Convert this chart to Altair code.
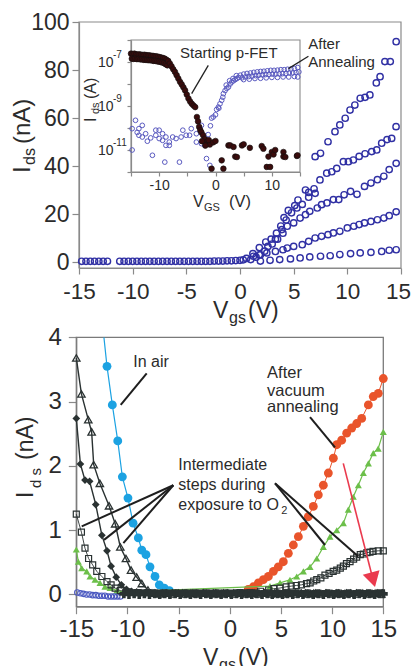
import altair as alt
import pandas as pd

FONT = "Liberation Sans"
TXT = "#2b2b2b"
GRAY = "#8a8a8a"
NAVY = "#3030a4"
INS_BLUE = "#5a5ac0"
MAROON = "#3a0c0c"
LBLUE = "#1ca2e2"
ORANGE = "#e9542b"
GREEN = "#6cbf4a"
DARK = "#2a3232"
RED = "#ea3a4e"

W, H = 403, 658

# ---------------- top panel data (Ids in nA vs Vgs) ----------------
TOP_FLAT_X = [-14.75, -14.35, -13.95, -13.55, -13.15, -12.75, -12.35, -11.2, -10.8, -10.4,
              -10.0, -9.6, -9.2, -8.8, -8.4, -8.0, -7.6, -7.2, -6.8, -6.4, -6.0, -5.6, -5.2,
              -4.8, -4.4, -4.0, -3.6, -3.2, -2.8, -2.4, -2.0, -1.6, -1.2, -0.8, -0.4, 0.0, 0.3]
TOP_FLAT_Y = [0.3, 0.3, 0.3, 0.3, 0.3, 0.3, 0.3, 0.3, 0.3, 0.3, 0.3, 0.3, 0.3, 0.3, 0.3,
              0.3, 0.3, 0.3, 0.3, 0.3, 0.3, 0.3, 0.3, 0.3, 0.3, 0.3, 0.3, 0.3, 0.3, 0.4,
              0.4, 0.4, 0.5, 0.5, 0.6, 0.7, 0.9]
C1_X = [0.6, 1.2, 1.8, 2.4, 2.9, 3.4, 3.8, 4.1, 4.5, 5.1, 5.4, 6.1, 6.4, 7.0, 7.0, 7.5,
        8.2, 8.85, 9.3, 9.8, 10.25, 10.7, 11.2, 11.65, 12.1, 12.7, 13.05, 13.5, 14.0, 14.55]
C1_Y = [1.5, 3.5, 6.0, 8.3, 9.5, 12.0, 15.0, 18.5, 21.5, 23.5, 25.8, 30.0, 29.0, 28.6, 43.9,
        45.3, 50.1, 54.3, 57.1, 59.9, 63.3, 65.4, 68.2, 68.6, 69.6, 74.6, 77.2, 83.5, 83.5, 91.8]
C2_X = [1.0, 1.8, 2.6, 3.3, 3.9, 4.3, 4.8, 5.3, 5.8, 6.4, 6.9, 7.45, 8.08, 8.55, 9.01, 9.63,
        10.1, 10.56, 11.1, 11.65, 12.27, 12.74, 13.2, 13.7, 14.13, 14.54]
C2_Y = [1.0, 3.0, 6.5, 9.5, 13.5, 17.5, 20.5, 22.5, 24.0, 27.0, 30.5, 34.2, 37.0, 37.6, 39.0,
        41.8, 41.8, 42.5, 44.0, 45.1, 46.0, 46.7, 49.5, 51.0, 51.5, 56.4]
C3_X = [1.5, 2.3, 3.0, 3.5, 4.0, 4.4, 5.0, 5.6, 6.1, 6.5, 7.2, 7.6, 8.1, 8.7, 9.2, 9.7,
        10.3, 10.9, 11.6, 12.2, 12.8, 13.4, 13.9, 14.55]
C3_Y = [2.0, 4.5, 7.5, 9.5, 12.0, 14.9, 16.3, 18.3, 19.7, 21.1, 22.5, 23.9, 24.6, 26.0, 26.0,
        28.0, 29.4, 28.2, 31.5, 32.9, 34.3, 35.7, 38.5, 41.1]
C4_X = [1.25, 1.9, 2.5, 3.3, 4.0, 4.4, 5.0, 5.8, 6.4, 7.0, 7.6, 8.2, 8.7, 9.3, 10.0, 10.6,
        11.1, 11.6, 12.2, 12.8, 13.4, 13.9, 14.55]
C4_Y = [2.4, 3.0, 3.8, 4.4, 5.1, 5.8, 6.5, 7.2, 8.6, 10.0, 10.7, 11.4, 12.1, 12.8, 14.2, 14.9,
        15.6, 16.3, 16.9, 17.6, 18.3, 19.3, 20.9]
C5_X = [1.9, 2.8, 3.7, 4.7, 5.6, 6.5, 7.5, 8.4, 9.3, 10.3, 11.2, 12.2, 13.2, 13.9, 14.55]
C5_Y = [0.4, 0.7, 1.0, 1.3, 1.7, 2.1, 2.4, 2.6, 3.1, 3.5, 3.8, 4.0, 4.4, 4.9, 5.1]

# ---------------- inset data (log10 of Ids in A vs VGS) ----------------
P_ROW1_X = [-15.0, -14.7, -14.4, -14.1, -13.8, -13.5, -13.2, -12.9, -12.6, -12.3, -12.0,
            -11.7, -11.4, -11.1, -10.8, -10.5, -10.2, -9.9, -9.6, -9.3, -9.0, -8.7]
P_ROW1_Y = [-6.62, -6.64, -6.62, -6.65, -6.66, -6.65, -6.67, -6.68, -6.67, -6.69, -6.7,
            -6.7, -6.72, -6.72, -6.74, -6.74, -6.76, -6.78, -6.8, -6.82, -6.85, -6.9]
P_ROW2_X = [-14.85, -14.55, -14.25, -13.95, -13.65, -13.35, -13.05, -12.75, -12.45, -12.15,
            -11.85, -11.55, -11.25, -10.95, -10.65, -10.35, -10.05, -9.75, -9.45, -9.15,
            -8.85, -8.55]
P_ROW2_Y = [-6.85, -6.86, -6.85, -6.87, -6.86, -6.88, -6.88, -6.9, -6.9, -6.91, -6.92,
            -6.92, -6.93, -6.95, -6.95, -6.97, -6.98, -7.0, -7.02, -7.05, -7.1, -7.15]
P_DESC_X = [-8.4, -8.1, -7.8, -7.5, -7.2, -6.9, -6.6, -6.3, -6.0, -5.7, -5.4, -5.1, -4.8,
            -4.5, -4.2, -3.9, -3.6, -3.3, -3.1, -2.9, -2.7, -2.5, -2.2, -1.9, -1.6, -1.3, -1.0]
P_DESC_Y = [-6.95, -7.07, -7.2, -7.33, -7.45, -7.6, -7.75, -7.9, -8.02, -8.15, -8.29, -8.48,
            -8.66, -8.8, -8.9, -8.98, -9.05, -9.5, -9.7, -9.95, -10.1, -10.2, -10.33, -10.5,
            -10.64, -10.7, -10.75]
P_SCAT_X = [-2.4, -1.8, -1.2, -0.7, -0.4, 0.0, 1.1, 1.4, 2.3, 2.6, 3.2, 3.5, 3.8, 4.7, 5.0,
            6.1, 8.2, 8.5, 9.1, 9.4, 9.7, 10.0, 10.3, 10.6, 12.06, 12.06, 12.4, 14.45, 14.56]
P_SCAT_Y = [-10.6, -10.8, -10.55, -11.85, -10.65, -10.59, -11.47, -11.85, -10.79, -10.79,
            -10.86, -11.3, -11.32, -10.79, -10.74, -10.9, -10.82, -10.94, -11.77, -11.3,
            -11.77, -11.09, -11.2, -11.0, -11.09, -11.3, -11.32, -11.27, -11.24]
A_X = [-14.8, -14.8, -14.2, -13.9, -13.6, -13.6, -13.0, -13.0, -12.4, -12.1, -11.5, -11.2,
       -10.6, -10.6, -10.0, -10.0, -9.4, -9.4, -9.0, -8.8, -8.8, -8.2, -8.2, -7.6, -7.0,
       -6.4, -6.1, -5.8, -5.2, -4.6, -4.3, -3.4, -3.4, -2.5, -2.5, -1.9, -1.6, -1.0, -1.3,
       -0.9, -0.7, -0.4, 0.0, 0.2, 0.5, 0.6, 0.8, 1.1, 1.3, 1.4, 1.7, 1.9, 2.0, 2.3, 2.5,
       2.6, 2.9, 3.1, 3.2, 3.5, 3.7, 3.8, 4.1]
A_Y = [-10.03, -11.0, -9.65, -10.2, -10.03, -10.33, -9.88, -10.41, -10.26, -10.6, -10.45,
       -11.24, -10.1, -10.33, -10.1, -10.48, -10.26, -10.56, -11.55, -10.41, -10.79, -10.64,
       -10.79, -10.41, -10.48, -11.55, -10.41, -10.1, -10.33, -10.33, -10.03, -10.26, -10.64,
       -9.88, -10.71, -10.79, -11.39, -11.7, -10.3, -9.9, -9.55, -9.5, -9.4, -9.16, -9.05,
       -9.1, -8.9, -8.74, -8.6, -8.44, -8.3, -8.05, -8.2, -8.14, -7.85, -8.0, -7.91, -7.75,
       -7.85, -7.8, -7.62, -7.75, -7.7]
A_BAND1_X = [4.4, 5.0, 5.6, 6.2, 6.8, 7.4, 8.0, 8.6, 9.2, 9.8, 10.4, 11.0, 11.6, 12.2, 12.8,
             13.4, 14.0, 14.6]
A_BAND1_Y = [-7.6, -7.55, -7.52, -7.5, -7.47, -7.45, -7.43, -7.42, -7.4, -7.38, -7.38, -7.37,
             -7.35, -7.35, -7.33, -7.32, -7.3, -7.25]
A_BAND2_X = [4.7, 5.3, 5.9, 6.5, 7.1, 7.7, 8.3, 8.9, 9.5, 10.1, 10.7, 11.3, 11.9, 12.5, 13.1,
             13.7, 14.3, 14.8]
A_BAND2_Y = [-7.72, -7.68, -7.66, -7.64, -7.62, -7.6, -7.58, -7.57, -7.56, -7.55, -7.55,
             -7.54, -7.53, -7.52, -7.5, -7.5, -7.48, -7.45]
A_BAND3_X = [5.0, 6.0, 7.0, 8.0, 9.0, 10.0, 11.0, 12.0, 13.0, 14.0, 14.6]
A_BAND3_Y = [-7.8, -7.78, -7.75, -7.74, -7.72, -7.7, -7.7, -7.68, -7.68, -7.66, -7.68]

# ---------------- bottom panel data (Ids in nA vs Vgs) ----------------
AIR_X = [-12.0, -11.48, -10.95, -10.5, -9.95, -9.45, -8.94, -8.6, -8.19, -7.8, -7.31, -6.89,
         -6.4, -5.9]
AIR_Y = [3.55, 2.95, 2.39, 1.83, 1.5, 1.11, 0.88, 0.69, 0.62, 0.43, 0.28, 0.15, 0.1, 0.06]
AIR_EDGE_X = [-12.3]
AIR_EDGE_Y = [4.0]
ORG_X = [1.8, 2.3, 2.79, 3.28, 3.77, 4.26, 4.74, 5.23, 5.72, 6.21, 6.7, 7.19, 7.67, 8.16,
         8.65, 9.14, 9.63, 10.12, 10.45, 10.93, 11.42, 11.91, 12.4, 12.89, 13.54, 14.02,
         14.51, 15.0]
ORG_Y = [0.08, 0.12, 0.18, 0.23, 0.28, 0.36, 0.43, 0.51, 0.64, 0.77, 0.90, 1.06, 1.21, 1.37,
         1.55, 1.70, 1.89, 2.12, 2.33, 2.40, 2.51, 2.59, 2.66, 2.74, 2.95, 3.08, 3.13, 3.36]
GRN_X = [-15.0, -14.8, -14.47, -13.98, -13.66, -13.17, -12.68, -12.2, -11.7, -11.05, -10.4,
         3.93, 4.91, 5.88, 6.54, 7.19, 7.84, 8.5, 9.14, 9.79, 10.45, 11.1, 11.58, 12.07, 12.56,
         13.05, 13.54, 14.02, 14.5, 15.0]
GRN_Y = [0.70, 0.51, 0.41, 0.36, 0.28, 0.23, 0.18, 0.12, 0.10, 0.06, 0.04, 0.13, 0.18, 0.23,
         0.28, 0.36, 0.43, 0.56, 0.74, 0.90, 1.00, 1.11, 1.32, 1.52, 1.70, 1.89, 2.04, 2.20,
         2.27, 2.53]
BLO_X = [-14.9, -14.6, -14.3, -14.0, -13.7, -13.4, -13.1, -12.8, -12.5, -12.2, -11.9, -11.6,
         -11.3, -11.0, -10.7]
BLO_Y = [0.03, 0.02, 0.01, 0.0, 0.0, -0.01, -0.01, -0.02, -0.02, -0.02, -0.03, -0.03, -0.03,
         -0.03, -0.03]
SQ_X = [-15.0, -14.5, -14.15, -13.8, -13.4, -13.0, -12.5, -12.0, -11.6, -11.2, -10.7, -10.0,
        -9.0, -8.0, -7.0, -6.0, -5.0, -4.0, -3.0, -2.0, -1.0, 0.0, 1.0, 2.0, 3.0, 3.8, 4.3,
        4.9, 5.5, 6.0, 6.5, 7.0, 7.5, 7.85, 8.2, 8.5, 8.9, 9.3, 9.7, 10.1, 10.45, 10.8, 11.1,
        11.4, 11.75, 12.1, 12.4, 12.75, 13.05, 13.4, 13.7, 14.0, 14.5, 15.0]
SQ_Y = [1.25, 0.97, 0.72, 0.56, 0.46, 0.36, 0.28, 0.20, 0.15, 0.10, 0.06, 0.04, 0.03, 0.03,
        0.02, 0.02, 0.02, 0.02, 0.02, 0.02, 0.02, 0.02, 0.03, 0.03, 0.05, 0.07, 0.09, 0.10,
        0.12, 0.13, 0.14, 0.15, 0.17, 0.18, 0.21, 0.23, 0.26, 0.30, 0.33, 0.36, 0.38, 0.41,
        0.44, 0.48, 0.51, 0.55, 0.58, 0.62, 0.63, 0.65, 0.66, 0.67, 0.68, 0.68]
TRI_X = [-15.0, -14.5, -13.83, -13.5, -13.3, -12.7, -11.8, -11.2, -10.7, -10.15, -9.65, -9.1,
         -8.6, -8.0, -7.4, -6.8, -6.2, -5.6, -5.0, -4.4, -3.8, -3.2, -2.6, -2.0, -1.4, -0.8,
         -0.2, 0.4, 1.0, 1.6, 2.2, 2.8, 3.4, 4.0, 4.6, 5.2, 5.8, 6.4, 7.0, 7.6, 8.2, 8.8, 9.4,
         10.0, 10.6, 11.2, 11.8, 12.4, 13.0, 13.6, 14.2, 14.8]
TRI_Y = [3.68, 3.12, 2.72, 2.53, 2.02, 1.73, 1.38, 1.10, 0.74, 0.56, 0.38, 0.27, 0.17, 0.07,
         0.02, 0.01, 0.02, 0.01, 0.02, 0.01, 0.02, 0.01, 0.02, 0.01, 0.02, 0.01, 0.02, 0.01,
         0.02, 0.01, 0.02, 0.01, 0.02, 0.01, 0.02, 0.01, 0.02, 0.01, 0.02, 0.01, 0.02, 0.01,
         0.02, 0.01, 0.02, 0.01, 0.02, 0.01, 0.02, 0.01, 0.02, 0.01]
DIA_X = [-15.0, -14.6, -14.15, -13.7, -13.1, -12.5, -12.0, -11.6, -11.1, -10.6, -10.1, -9.6,
         -9.1, -8.6, -8.1, -7.6, -7.1, -6.6, -6.1, -5.6, -5.1, -4.6, -4.1, -3.6, -3.1, -2.6,
         -2.1, -1.6, -1.1, -0.6, -0.1, 0.4, 0.9, 1.4, 1.9, 2.4, 2.9, 3.4, 3.9, 4.4, 4.9, 5.4,
         5.9, 6.4, 6.9, 7.4, 7.9, 8.4, 8.9, 9.4, 9.9, 10.4, 10.9, 11.4, 11.9, 12.4, 12.9,
         13.4, 13.9, 14.4, 14.9]
DIA_Y = [2.74, 2.03, 1.78, 1.76, 1.40, 0.92, 0.68, 0.44, 0.27, 0.15, 0.08, 0.05, 0.04, 0.03,
         0.03, 0.03, 0.02, 0.03, 0.02, 0.03, 0.02, 0.03, 0.02, 0.03, 0.02, 0.03, 0.02, 0.03,
         0.02, 0.03, 0.02, 0.03, 0.02, 0.03, 0.02, 0.03, 0.02, 0.03, 0.02, 0.03, 0.02, 0.03,
         0.02, 0.03, 0.02, 0.03, 0.02, 0.03, 0.02, 0.03, 0.02, 0.03, 0.02, 0.03, 0.02, 0.03,
         0.02, 0.03, 0.02, 0.03, 0.03]
# densely overlapping dark markers that form the thick band along Ids = 0
BAND_X = [-10.35, -9.85, -9.35, -8.85, -8.35, -7.85, -7.35, -6.85, -6.35, -5.85, -5.35,
          -4.85, -4.35, -3.85, -3.35, -2.85, -2.35, -1.85, -1.35, -0.85, -0.35, 0.15, 0.65,
          1.15, 1.65, 2.15, 2.65, 3.15, 3.65, 4.15, 4.65, 5.15, 5.65, 6.15, 6.65, 7.15, 7.65,
          8.15, 8.65, 9.15, 9.65, 10.15, 10.65, 11.15, 11.65, 12.15, 12.65, 13.15, 13.65,
          14.15, 14.65, 15.0]
BAND_Y = [0.01, 0.0, 0.01, 0.0, 0.01, 0.0, 0.01, 0.0, 0.01, 0.0, 0.01, 0.0, 0.01, 0.0, 0.01,
          0.0, 0.01, 0.0, 0.01, 0.0, 0.01, 0.0, 0.01, 0.0, 0.01, 0.0, 0.01, 0.0, 0.01, 0.0,
          0.01, 0.0, 0.01, 0.0, 0.01, 0.0, 0.01, 0.0, 0.01, 0.0, 0.01, 0.0, 0.01, 0.0, 0.01,
          0.0, 0.01, 0.0, 0.01, 0.0, 0.01, 0.01]

# annotation leader lines (data coordinates of their panel): x1, y1, x2, y2
INS_LEADERS = [(-4.23, -8.44, -1.28, -7.15), (12.95, -7.3, 16.5, -6.74)]
BOT_LEADERS = [(-10.66, 2.95, -8.12, 3.44), (10.28, 2.29, 7.84, 2.76),
               (-5.52, 1.70, -14.47, 1.06), (-5.52, 1.70, -12.29, 0.85),
               (-5.52, 1.70, -10.4, 0.80), (4.42, 1.73, 9.3, 0.77), (4.42, 1.73, 12.56, 0.59)]
ARROW = (11.09, 2.04, 14.0, 0.23)

# ---------------- scales (explicit pixel ranges inside one canvas) ----------------
def sc(dom, rng):
    return alt.Scale(domain=dom, range=rng, nice=False, zero=False)

TX = sc([-15, 15], [71, 393]); TY = sc([-2.5, 100], [260, 14])
IX = sc([-15, 15], [123, 292]); IY = sc([-12, -6], [164, 32])
BX = sc([-15, 15], [68.3, 375.3]); BY = sc([-0.19, 4.0], [598.7, 329.4])

def enc(xs, ys, xax=None, yax=None):
    return dict(x=alt.X("x:Q", scale=xs, axis=xax), y=alt.Y("y:Q", scale=ys, axis=yax))

def pts(X, Y, xs, ys, **mk):
    df = pd.DataFrame({"x": X, "y": Y})
    mk.setdefault("opacity", 1)
    return alt.Chart(df).mark_point(**mk).encode(**enc(xs, ys))

def ln(X, Y, xs, ys, **mk):
    df = pd.DataFrame({"x": X, "y": Y})
    return alt.Chart(df).mark_line(**mk).encode(**enc(xs, ys))

def segs(rows, xs, ys, **mk):
    df = pd.DataFrame(rows, columns=["x", "y", "x2", "y2"])
    return alt.Chart(df).mark_rule(**mk).encode(**enc(xs, ys), x2="x2:Q", y2="y2:Q")

def dtxt(s, x, y, xs, ys, size, align="left", baseline="middle", dx=0, dy=0):
    df = pd.DataFrame({"x": [x], "y": [y]})
    return alt.Chart(df).mark_text(text=s, font=FONT, fontSize=size, color=TXT, align=align,
                                   baseline=baseline, dx=dx, dy=dy).encode(**enc(xs, ys))

DUMMY = pd.DataFrame({"a": [0]})

def ptxt(s, x, y, size, angle=0, align="left", baseline="alphabetic"):
    return alt.Chart(DUMMY).mark_text(text=s, font=FONT, fontSize=size, color=TXT, align=align,
                                      baseline=baseline, angle=angle).encode(
        x=alt.value(x), y=alt.value(y))

def frame(x0, x1, y0, y1, xs, ys, xax, yax, color, width):
    df = pd.DataFrame({"x": [x0], "x2": [x1], "y": [y0], "y2": [y1]})
    return alt.Chart(df).mark_rect(fillOpacity=0, stroke=color, strokeWidth=width).encode(
        **enc(xs, ys, xax, yax), x2="x2:Q", y2="y2:Q")

NEG = "datum.value < 0 ? '-' + abs(datum.value) : '' + datum.value"

def axis(orient, offset, values, size, tick, pad, expr=NEG, color=GRAY, **extra):
    return alt.Axis(orient=orient, offset=offset, values=values, title=None, grid=False,
                    labelFont=FONT, labelFontSize=size, labelColor=TXT, labelPadding=pad,
                    tickSize=tick, tickColor=color, domainColor=color, tickWidth=1.2,
                    domainWidth=1.2, labelFlush=False, labelOverlap=False, labelExpr=expr,
                    **extra)

layers = []

# ---- top panel ----
layers.append(frame(-15, 15, -2.5, 100, TX, TY,
                    axis("bottom", 260 - H, [-15, -10, -5, 0, 5, 10, 15], 22.5, 6, 6,
                         labelOffset={"condition": {"test": "datum.value == 15", "value": -3},
                                      "value": 0}),
                    axis("left", -71, [0, 20, 40, 60, 80, 100], 23, 7, 3), GRAY, 1.2))
top_style = dict(shape="circle", filled=False, color=NAVY, size=40, strokeWidth=1.4)
for X, Y in [(TOP_FLAT_X, TOP_FLAT_Y), (C5_X, C5_Y), (C4_X, C4_Y), (C3_X, C3_Y),
             (C2_X, C2_Y), (C1_X, C1_Y)]:
    layers.append(pts(X, Y, TX, TY, **top_style))

# ---- inset ----
INS_X_EXPR = ("datum.value == -10 ? '-10' : datum.value == 0 ? '0' : "
              "datum.value == 10 ? '10' : ''")
INS_Y_EXPR = "(datum.value == -7 || datum.value == -9 || datum.value == -11) ? '10' : ''"
layers.append(frame(-15, 15, -12, -6, IX, IY,
                    axis("bottom", 164 - H, [-15, -10, -5, 0, 5, 10, 15], 14, 4, 2, INS_X_EXPR),
                    axis("left", -123, [-12, -11, -10, -9, -8, -7, -6], 14, 4, 14, INS_Y_EXPR),
                    GRAY, 1.1))
ins_open = dict(shape="circle", filled=False, color=INS_BLUE, size=22, strokeWidth=1)
for X, Y in [(A_X, A_Y), (A_BAND1_X, A_BAND1_Y), (A_BAND2_X, A_BAND2_Y),
             (A_BAND3_X, A_BAND3_Y)]:
    layers.append(pts(X, Y, IX, IY, **ins_open))
ins_dark = dict(shape="circle", filled=True, color=MAROON, size=32, stroke="#111111",
                strokeWidth=0.6)
for X, Y in [(P_ROW1_X, P_ROW1_Y), (P_ROW2_X, P_ROW2_Y), (P_DESC_X, P_DESC_Y),
             (P_SCAT_X, P_SCAT_Y)]:
    layers.append(pts(X, Y, IX, IY, **ins_dark))
for e, lab in [(-7, "-7"), (-9, "-9"), (-11, "-11")]:
    layers.append(dtxt(lab, -15, e, IX, IY, 10, align="left", dx=-18, dy=-7))
layers.append(segs(INS_LEADERS, IX, IY, color="#222222", strokeWidth=1.3))
layers.append(dtxt("Starting p-FET", -6.3, -6.59, IX, IY, 15))
layers.append(dtxt("After", 16.46, -6.16, IX, IY, 15))
layers.append(dtxt("Annealing", 16.46, -7.0, IX, IY, 15))
# inset axis titles
layers.append(ptxt("V", 185, 199, 16))
layers.append(ptxt("GS", 196, 203, 11))
layers.append(ptxt("(V)", 221, 199, 16.5))
layers.append(ptxt("I", 88, 114, 16, angle=270))
layers.append(ptxt("ds", 91, 106, 11, angle=270))
layers.append(ptxt("(A)", 88, 91, 16, angle=270))

# top axis titles
layers.append(ptxt("V", 205, 310, 23))
layers.append(ptxt("gs", 221, 315, 16))
layers.append(ptxt("(V)", 240, 310, 23))
layers.append(ptxt("I", 22, 165, 24, angle=270))
layers.append(ptxt("ds", 27, 157, 16, angle=270))
layers.append(ptxt("(nA)", 22, 136, 24, angle=270))

# ---- bottom panel ----
layers.append(frame(-15, 15, -0.19, 4.0, BX, BY,
                    axis("bottom", 598.7 - H, [-15, -10, -5, 0, 5, 10, 15], 24, 7, 4),
                    axis("left", -68.3, [0, 1, 2, 3, 4], 24, 8, 7), "#7a7a7a", 1.3))
layers.append(ln(AIR_EDGE_X + AIR_X, AIR_EDGE_Y + AIR_Y, BX, BY, color=LBLUE, strokeWidth=1.2))
layers.append(pts(AIR_X, AIR_Y, BX, BY, shape="circle", filled=True, color=LBLUE, size=78))
layers.append(ln(ORG_X, ORG_Y, BX, BY, color=ORANGE, strokeWidth=1))
layers.append(pts(ORG_X, ORG_Y, BX, BY, shape="circle", filled=True, color=ORANGE, size=78))
layers.append(ln(GRN_X, GRN_Y, BX, BY, color=GREEN, strokeWidth=1.2))
layers.append(pts(GRN_X, GRN_Y, BX, BY, shape="triangle-up", filled=True, color=GREEN, size=50))
layers.append(pts(BLO_X, BLO_Y, BX, BY, shape="circle", filled=False, color="#4a58c0", size=30,
                  strokeWidth=1.1))
layers.append(ln(SQ_X, SQ_Y, BX, BY, color=DARK, strokeWidth=0.9))
layers.append(pts(SQ_X, SQ_Y, BX, BY, shape="square", filled=False, color=DARK, size=36,
                  strokeWidth=1.2))
layers.append(ln(TRI_X, TRI_Y, BX, BY, color=DARK, strokeWidth=1.4))
layers.append(pts(TRI_X, TRI_Y, BX, BY, shape="triangle-up", filled=False, color=DARK, size=55,
                  strokeWidth=1.3))
layers.append(ln(DIA_X, DIA_Y, BX, BY, color=DARK, strokeWidth=1.4))
layers.append(pts(DIA_X, DIA_Y, BX, BY, shape="diamond", filled=True, color=DARK, size=60))
layers.append(pts(BAND_X, BAND_Y, BX, BY, shape="cross", filled=True, color=DARK, size=80))
layers.append(segs(BOT_LEADERS, BX, BY, color="#1e1e1e", strokeWidth=2))
layers.append(segs([ARROW], BX, BY, color=RED, strokeWidth=1.6))
layers.append(pts([ARROW[2]], [ARROW[3]], BX, BY, shape="triangle-down", filled=True,
                  color=RED, size=300, angle=345))
layers.append(dtxt("In air", -9.43, 3.62, BX, BY, 16))
layers.append(dtxt("After", 3.64, 3.44, BX, BY, 16.5))
layers.append(dtxt("vacuum", 3.64, 3.17, BX, BY, 16.5))
layers.append(dtxt("annealing", 3.64, 2.91, BX, BY, 16.5))
layers.append(dtxt("Intermediate", -5.03, 2.02, BX, BY, 16))
layers.append(dtxt("steps during", -5.03, 1.70, BX, BY, 16))
layers.append(dtxt("exposure to O", -5.03, 1.39, BX, BY, 16))
layers.append(dtxt("2", 5.02, 1.39, BX, BY, 11, dy=6))

# bottom axis titles
layers.append(ptxt("V", 195, 657, 23))
layers.append(ptxt("gs", 211, 662, 16))
layers.append(ptxt("(V)", 230, 657, 23))
layers.append(ptxt("I", 25, 490, 23, angle=270))
layers.append(ptxt("d s", 33, 480, 15, angle=270))
layers.append(ptxt("(nA)", 25, 452, 23, angle=270))

chart = alt.layer(*layers).resolve_scale(x="independent", y="independent").properties(
    width=W, height=H, autosize=alt.AutoSizeParams(type="none"), padding=0,
    background="white").configure_view(stroke=None)

chart.save("out.html", embed_options={"renderer": "svg", "actions": False})
